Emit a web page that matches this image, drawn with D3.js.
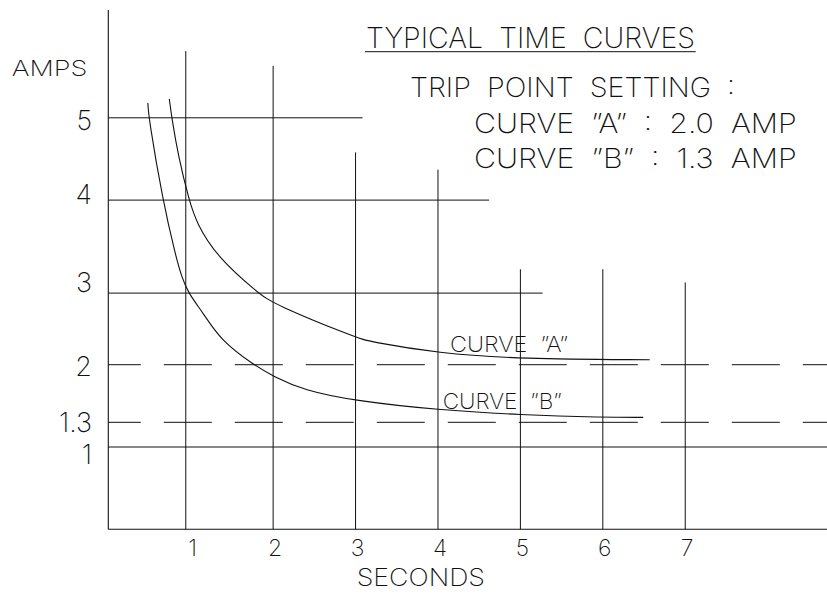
<!DOCTYPE html>
<html>
<head>
<meta charset="utf-8">
<script src="https://cdn.jsdelivr.net/npm/d3@7/dist/d3.min.js"></script>
<style>
  html, body { margin: 0; padding: 0; background: #fff; }
  svg { display: block; }
  text { font-family: "Inter", "Open Sans", "Roboto", sans-serif; font-weight: 200; fill: #111; white-space: pre; }
</style>
</head>
<body>
<svg id="chart" width="827" height="596"></svg>
<script>
// ---------------- data ----------------
const secondsTicks = [1, 2, 3, 4, 5, 6, 7];
const secondsTickLabels = ["1", "2", "3", "4", "5", "6", "7"];
const ampsTicks = [4.97, 4.07, 3.0, 1.99, 1.3, 0.91];   // where the labels sit in the drawing
const ampsTickLabels = ["5", "4", "3", "2", "1.3", "1"];

// grid lines as drawn in the reference (seconds / amps units)
const secondsGridAt  = [0.94, 2, 3, 4, 5, 6, 7];
const secondsGridTop = [5.81, 5.63, 4.58, 4.37, 3.16, 3.16, 3.0];
const ampsGridAt  = [5, 4, 2.87, 1];
const ampsGridEnd = [3.085, 4.62, 5.27, 8.72];
const ampsDashedAt = [2, 1.3];

const curveASeconds = [0.74, 0.77, 0.85, 0.98, 1.07, 1.32, 1.82, 2.00, 3.00, 3.17, 4.00, 5.00, 6.57];
const curveAAmps    = [5.23, 5.00, 4.53, 4.00, 3.72, 3.31, 2.87, 2.74, 2.33, 2.28, 2.14, 2.07, 2.06];
const curveBSeconds = [0.48, 0.49, 0.66, 0.82, 0.89, 0.97, 1.15, 1.36, 1.76, 2.00, 2.37, 3.00, 4.00, 5.00, 6.00, 6.49];
const curveBAmps    = [5.18, 5.00, 4.00, 3.31, 3.07, 2.87, 2.63, 2.30, 2.00, 1.86, 1.69, 1.56, 1.45, 1.39, 1.36, 1.36];

const titleText = "TYPICAL  TIME  CURVES";
const noteLines = ["TRIP  POINT  SETTING  :", "CURVE  \u201DA\u201D  :  2.0  AMP", "CURVE  \u201DB\u201D  :  1.3  AMP"];
const curveLabels = ["CURVE  \u201DA\u201D", "CURVE  \u201DB\u201D"];
const yAxisTitle = "AMPS";
const xAxisTitle = "SECONDS";

// ---------------- layout ----------------
const svg = d3.select("#chart");
const x = d3.scaleLinear().domain([0, 8.72]).range([108.3, 827]);
const y = d3.scaleLinear().domain([0, 6.31]).range([529.3, 10]);
const ink = "#111";

const g = svg.append("g");

// axes lines
g.append("line").attr("x1", x(0)).attr("x2", x(0)).attr("y1", y(6.31)).attr("y2", y(0))
  .attr("stroke", ink).attr("stroke-width", 1.1);
g.append("line").attr("x1", x(0)).attr("x2", x(8.72)).attr("y1", y(0)).attr("y2", y(0))
  .attr("stroke", ink).attr("stroke-width", 1.1);

// vertical grid
g.selectAll(".vgrid").data(secondsGridAt).join("line")
  .attr("x1", d => x(d)).attr("x2", d => x(d))
  .attr("y1", (d, i) => y(secondsGridTop[i])).attr("y2", y(0))
  .attr("stroke", ink).attr("stroke-width", 1);

// horizontal grid
g.selectAll(".hgrid").data(ampsGridAt).join("line")
  .attr("x1", x(0)).attr("x2", (d, i) => x(ampsGridEnd[i]))
  .attr("y1", d => y(d)).attr("y2", d => y(d))
  .attr("stroke", ink).attr("stroke-width", 1);

// dashed trip lines
g.selectAll(".dgrid").data(ampsDashedAt).join("line")
  .attr("x1", x(0)).attr("x2", x(8.72))
  .attr("y1", d => y(d)).attr("y2", d => y(d))
  .attr("stroke", ink).attr("stroke-width", 1)
  .attr("stroke-dasharray", "48,23").attr("stroke-dashoffset", 15.5);

// curves
const line = d3.line().x(d => x(d[0])).y(d => y(d[1])).curve(d3.curveBasis);
[[curveASeconds, curveAAmps], [curveBSeconds, curveBAmps]].forEach(([xs, ys]) => {
  g.append("path").datum(xs.map((v, i) => [v, ys[i]]))
    .attr("d", line).attr("fill", "none").attr("stroke", ink).attr("stroke-width", 1.1);
});

// x tick labels
g.selectAll(".xt").data(secondsTicks).join("text")
  .attr("x", d => x(d) + 2).attr("y", 556)
  .attr("text-anchor", "middle").attr("font-size", 23)
  .text((d, i) => secondsTickLabels[i]);

// y tick labels
g.selectAll(".yt").data(ampsTicks).join("text")
  .attr("x", 92).attr("y", d => y(d) + 10)
  .attr("text-anchor", "end").attr("font-size", 27)
  .text((d, i) => ampsTickLabels[i]);

// axis titles
g.append("text").attr("x", 11.7).attr("y", 76).attr("font-size", 22)
  .attr("textLength", 75.6).attr("lengthAdjust", "spacingAndGlyphs").text(yAxisTitle);
g.append("text").attr("x", 356.7).attr("y", 586).attr("font-size", 24)
  .attr("textLength", 128.3).attr("lengthAdjust", "spacingAndGlyphs").text(xAxisTitle);

// title + underline
g.append("text").attr("x", 366).attr("y", 48.3).attr("font-size", 28)
  .attr("textLength", 329).attr("lengthAdjust", "spacingAndGlyphs").text(titleText);
g.append("line").attr("x1", 365).attr("x2", 695.7).attr("y1", 51.7).attr("y2", 51.7)
  .attr("stroke", ink).attr("stroke-width", 1);

// notes
const noteX = [410, 474, 474], noteY = [96.7, 132.7, 168.3], noteW = [325, 322.7, 322.7];
g.selectAll(".note").data(noteLines).join("text")
  .attr("x", (d, i) => noteX[i]).attr("y", (d, i) => noteY[i])
  .attr("font-size", 27).attr("textLength", (d, i) => noteW[i])
  .attr("lengthAdjust", "spacingAndGlyphs").text(d => d);

// curve labels
const clX = [450, 442.7], clY = [352.3, 409], clW = [118, 119];
g.selectAll(".cl").data(curveLabels).join("text")
  .attr("x", (d, i) => clX[i]).attr("y", (d, i) => clY[i])
  .attr("font-size", 22).attr("textLength", (d, i) => clW[i])
  .attr("lengthAdjust", "spacingAndGlyphs").text(d => d);
</script>
</body>
</html>
